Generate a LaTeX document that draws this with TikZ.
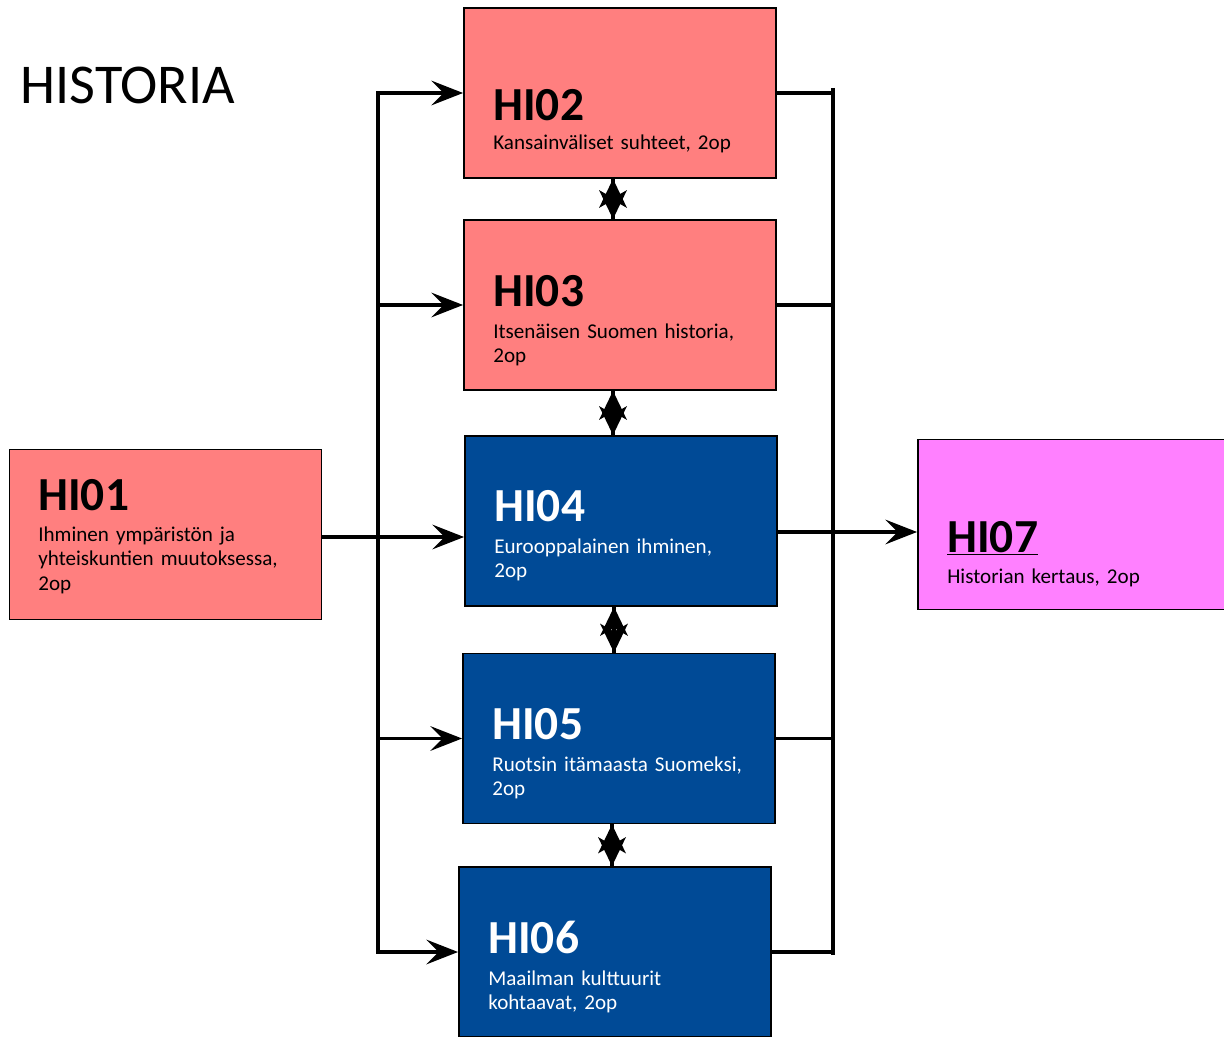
\documentclass[tikz,border=0pt]{standalone}
\usepackage{fontspec}
\setmainfont{Carlito}
\usetikzlibrary{arrows.meta,positioning,calc}
\definecolor{rosa}{HTML}{FF7F7F}
\definecolor{sininen}{HTML}{004A96}
\definecolor{liila}{HTML}{FF80FF}
\tikzset{course/.style={
    draw=black,
    line width=1.1pt,
    minimum width=6.24cm,
    minimum height=3.4cm,
    inner sep=0pt}}
\tikzset{pinkcourse/.style={
    course,
    fill=rosa}}
\tikzset{bluecourse/.style={
    course,
    fill=sininen}}
\tikzset{extracourse/.style={
    course,
    fill=liila}}
\tikzset{coursecode/.style={
    anchor=base west,
    inner sep=0pt,
    font=\fontsize{27}{30}\selectfont\bfseries}}
\tikzset{coursedesc/.style={
    anchor=base west,
    inner sep=0pt,
    text width=6cm,
    align=left,
    font=\fontsize{12}{14.2}\selectfont}}
\tikzset{bus/.style={
    draw=black,
    line width=2.2pt}}
\tikzset{link/.style={
    bus,
    -{Stealth[length=18pt,width=14pt,inset=7pt]}}}
\tikzset{vaihto/.style={
    draw=black,
    line width=2pt}}
\tikzset{vaihtokarki/.style={
    fill=black}}

\begin{document}
\begin{tikzpicture}[x=0.02cm,y=-0.02cm]
\useasboundingbox (0,0) rectangle (1224,1037);
\coordinate (lbus) at (378,92);
\coordinate (rbus) at (833,88);
\coordinate (rbusend) at (833,955);
\coordinate (r04) at (833,532);

\node[anchor=base west, inner sep=0pt, font=\fontsize{32}{36}\selectfont] (otsikko) at (20,104) {HISTORIA};

	\node[pinkcourse] (hi01) at (165.5,534.5) {};
	\node[pinkcourse] (hi02) at (620,93) {};
	\node[pinkcourse] (hi03) at (620,305) {};
	\node[bluecourse] (hi04) at (621,521) {};
	\node[bluecourse] (hi05) at (619,738.5) {};
	\node[bluecourse] (hi06) at (615,952) {};
	\node[extracourse] (hi07) at (1074,524.5) {};

	\node[coursecode] (hi01code) at (38,510) {HI01};
	\node[coursedesc] (hi01desc) at (38,541) {Ihminen ympäristön ja\\yhteiskuntien muutoksessa,\\2op};
	\node[coursecode] (hi02code) at (493,121) {HI02};
	\node[coursedesc] (hi02desc) at (493,150) {Kansainväliset suhteet, 2op};
	\node[coursecode] (hi03code) at (493,306) {HI03};
	\node[coursedesc] (hi03desc) at (493,338) {Itsenäisen Suomen historia,\\2op};
	\node[coursecode, text=white] (hi04code) at (494,521) {HI04};
	\node[coursedesc, text=white] (hi04desc) at (494,553) {Eurooppalainen ihminen,\\2op};
	\node[coursecode, text=white] (hi05code) at (492,739) {HI05};
	\node[coursedesc, text=white] (hi05desc) at (492,771) {Ruotsin itämaasta Suomeksi,\\2op};
	\node[coursecode, text=white] (hi06code) at (488,953) {HI06};
	\node[coursedesc, text=white] (hi06desc) at (488,985) {Maailman kulttuurit\\kohtaavat, 2op};
	\node[coursecode] (hi07code) at (947,552) {\underline{HI07}};
	\node[coursedesc] (hi07desc) at (947,583) {Historian kertaus, 2op};

  % vasen kisko
  \draw[link] (lbus |- hi06.west) |- (hi02.west);
  \draw[link] (lbus) |- (hi06.west);
  \draw[link] (lbus |- hi03.west) -- (hi03.west);
  \draw[link] (lbus |- hi05.west) -- (hi05.west);
  \draw[link] ([yshift=-0.05cm]hi01.east) -- ([yshift=-0.05cm]hi01.east -| hi04.west);

  % oikea kisko
  \draw[bus] (rbus) -- (rbusend);
  \foreach \n in {hi02,hi03,hi05,hi06}
    \draw[bus] (\n.east) -- (\n.east -| rbus);
  \draw[bus] (r04 -| hi04.east) -- (r04);
  \draw[link] (r04) -- (r04 -| hi07.west);

  % kaksisuuntaiset nuolet
  \foreach \a/\b in {hi02/hi03,hi03/hi04,hi04/hi05,hi05/hi06} {
    \coordinate (ylä) at ([xshift=-0.14cm]\a.south);
    \coordinate (ala) at (ylä |- \b.north);
    \draw[vaihto] (ylä) -- (ala);
    \fill[vaihtokarki] (ylä) -- ++(14,29) -- ++(-14,-8) -- ++(-14,8) -- cycle;
    \fill[vaihtokarki] (ala) -- ++(14,-29) -- ++(-14,8) -- ++(-14,-8) -- cycle;
  }
\end{tikzpicture}
\end{document}
